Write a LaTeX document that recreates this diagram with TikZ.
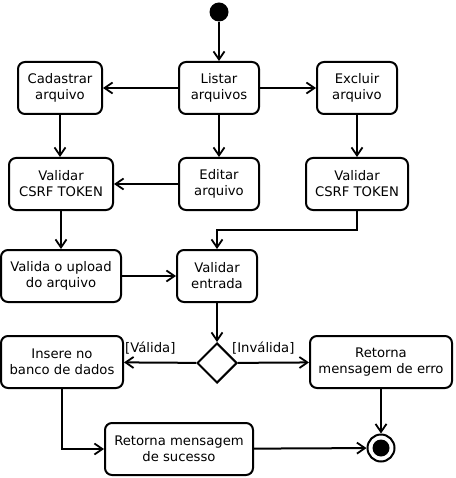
\documentclass[tikz,border=0pt]{standalone}
\usepackage{fontspec}
\setmainfont{DejaVu Sans}
\usetikzlibrary{shapes.geometric,arrows.meta}
\begin{document}
\begin{tikzpicture}[x=1pt,y=-1pt,
  act/.style={draw,line width=2pt,rounded corners=7pt,align=center,inner sep=0pt,
    font=\fontsize{13.2}{16}\selectfont},
  arr/.style={line width=2pt,-{Straight Barb[length=8pt,width=11pt,line width=1.8pt]}},
  lbl/.style={font=\fontsize{13.2}{16}\selectfont,inner sep=0pt}]
\useasboundingbox (0,0) rectangle (455,478);
\node[circle,fill=black,minimum size=19pt,inner sep=0pt] (start) at (219,12) {};
\node[act,minimum width=80pt,minimum height=52pt] (listar) at (219,88) {Listar\\arquivos};
\node[act,minimum width=84pt,minimum height=52pt] (cad) at (60,88) {Cadastrar\\arquivo};
\node[act,minimum width=80pt,minimum height=52pt] (exc) at (357,88) {Excluir\\arquivo};
\node[act,minimum width=104pt,minimum height=52pt] (valL) at (61,184) {Validar\\CSRF TOKEN};
\node[act,minimum width=80pt,minimum height=52pt] (edit) at (219,184) {Editar\\arquivo};
\node[act,minimum width=102pt,minimum height=52pt] (valR) at (357,184) {Validar\\CSRF TOKEN};
\node[act,minimum width=120pt,minimum height=52pt] (upload) at (61,276) {Valida o upload\\do arquivo};
\node[act,minimum width=80pt,minimum height=52pt] (entrada) at (217,276) {Validar\\entrada};
\node[diamond,draw,line width=2pt,minimum width=40pt,minimum height=40pt,inner sep=0pt] (dec) at (217,363) {};
\node[act,minimum width=122pt,minimum height=52pt] (insere) at (62,362) {Insere no\\banco de dados};
\node[act,minimum width=142pt,minimum height=52pt] (erro) at (381,362) {Retorna\\mensagem de erro};
\node[act,minimum width=148pt,minimum height=52pt] (sucesso) at (179,449) {Retorna mensagem\\de sucesso};
\node[circle,draw,line width=2pt,minimum size=27pt,inner sep=0pt] (fim) at (381,448) {};
\node[circle,fill=black,minimum size=17pt,inner sep=0pt] (fimin) at (381,448) {};
\node[lbl,anchor=west] (lv) at (125,348) {[Válida]};
\node[lbl,anchor=west] (li) at (232,348) {[Inválida]};
\coordinate (bend) at (357,230);
\draw[arr] (start) -- (listar);
\draw[arr] (listar) -- (cad);
\draw[arr] (listar) -- (exc);
\draw[arr] (listar) -- (edit);
\draw[arr] (cad) -- (cad |- valL.north);
\draw[arr] (exc) -- (exc |- valR.north);
\draw[arr] (edit) -- (valL);
\draw[arr] (valL) -- (valL |- upload.north);
\draw[arr] (valR.south) -- (bend) -| (entrada.north);
\draw[arr] (upload) -- (entrada);
\draw[arr] (entrada) -- (dec);
\draw[arr] (dec) -- (insere);
\draw[arr] (dec) -- (erro);
\draw[arr] (insere.south) |- (sucesso.west);
\draw[arr] (sucesso) -- (fim);
\draw[arr] (erro) -- (fim);
\end{tikzpicture}
\end{document}
